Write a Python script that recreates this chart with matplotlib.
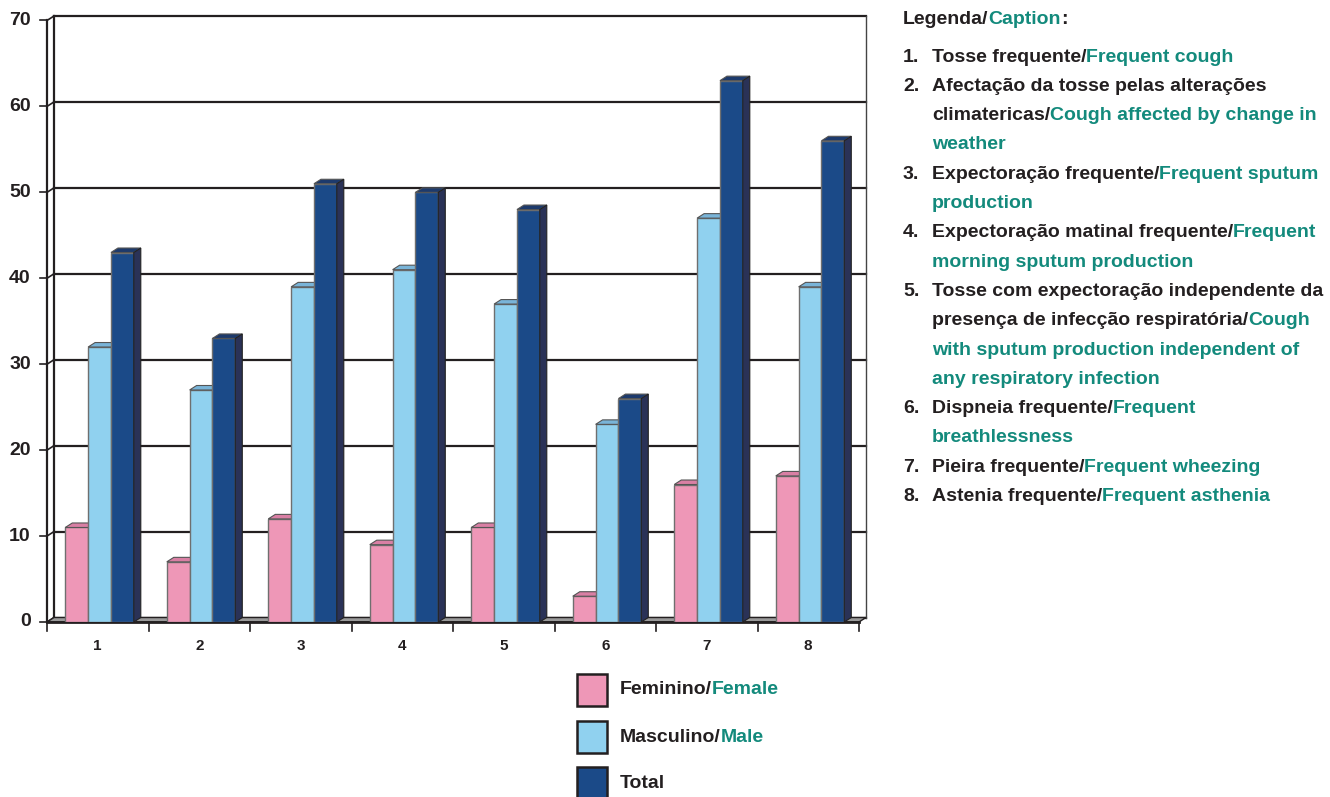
import matplotlib
matplotlib.use("Agg")
import matplotlib.pyplot as plt
from matplotlib import font_manager
from matplotlib.patches import Polygon, Rectangle

# data
categories = ["1", "2", "3", "4", "5", "6", "7", "8"]
female = [11, 7, 12, 9, 11, 3, 16, 17]
male = [32, 27, 39, 41, 37, 23, 47, 39]
total = [43, 33, 51, 50, 48, 26, 63, 56]
yticks = [0, 10, 20, 30, 40, 50, 60, 70]

series_names = [("Feminino/", "Female"), ("Masculino/", "Male"), ("Total", "")]
caption_title = [("Legenda/", "k"), ("Caption", "g"), (":", "k")]
caption_items = [
    ("1.", [[("Tosse frequente/", "k"), ("Frequent cough", "g")]]),
    ("2.", [[("Afectação da tosse pelas alterações", "k")],
            [("climatericas/", "k"), ("Cough affected by change in", "g")],
            [("weather", "g")]]),
    ("3.", [[("Expectoração frequente/", "k"), ("Frequent sputum", "g")],
            [("production", "g")]]),
    ("4.", [[("Expectoração matinal frequente/", "k"), ("Frequent", "g")],
            [("morning sputum production", "g")]]),
    ("5.", [[("Tosse com expectoração independente da", "k")],
            [("presença de infecção respiratória/", "k"), ("Cough", "g")],
            [("with sputum production independent of", "g")],
            [("any respiratory infection", "g")]]),
    ("6.", [[("Dispneia frequente/", "k"), ("Frequent", "g")],
            [("breathlessness", "g")]]),
    ("7.", [[("Pieira frequente/", "k"), ("Frequent wheezing", "g")]]),
    ("8.", [[("Astenia frequente/", "k"), ("Frequent asthenia", "g")]]),
]

installed = {f.name for f in font_manager.fontManager.ttflist}
FONT = "Liberation Sans Narrow" if "Liberation Sans Narrow" in installed else "Liberation Sans"
plt.rcParams["font.family"] = [FONT, "DejaVu Sans"]

TEAL = "#138a7c"
INK = "#231f20"
colors = {"k": INK, "g": TEAL}
face = ["#ee97b7", "#90d1ef", "#1b4a88"]
top = ["#d97fa4", "#79b4d8", "#1d3a6c"]
side = "#2a3257"

W, H = 1330, 797
fig = plt.figure(figsize=(W / 100, H / 100), dpi=100)

# plot area in pixels (front x0 .. back x1, zero .. top)
px_left, px_right, px_zero, px_top = 47, 866, 622, 16
ax = fig.add_axes([px_left / W, (H - px_zero) / H,
                   (px_right - px_left) / W, (px_zero - px_top) / H])
dx = 7 / 101.5     # depth offset in category units
dy = 4.5 / 8.6     # depth offset in value units
n = len(categories)
ax.set_xlim(0, n + dx)
ax.set_ylim(0, 70 + dy)
ax.axis("off")

# back wall grid
for v in yticks:
    ax.plot([dx, n + dx], [v + dy, v + dy], color=INK, lw=1.6, clip_on=False, zorder=1)
    ax.plot([0, dx], [v, v + dy], color=INK, lw=1.2, clip_on=False, zorder=1)
    ax.plot([-0.07, 0], [v, v], color=INK, lw=1.2, clip_on=False)
    ax.text(-0.16, v, str(v), ha="right", va="center", fontsize=14,
            fontweight="bold", color=INK)
ax.plot([0, 0], [0, 70], color=INK, lw=1.6, clip_on=False)
ax.plot([dx, dx], [dy, 70 + dy], color=INK, lw=1.6, clip_on=False)
ax.plot([n + dx, n + dx], [dy, 70 + dy], color="#444444", lw=1.0, clip_on=False)

# floor
ax.add_patch(Polygon([(0, 0), (n, 0), (n + dx, dy), (dx, dy)], closed=True,
                     facecolor="#9a9a9a", edgecolor=INK, lw=1.0, clip_on=False, zorder=2))
ax.plot([0, n], [0, 0], color=INK, lw=2.0, clip_on=False, zorder=2)

# x ticks and labels
for i in range(n + 1):
    ax.plot([i, i], [0, -1.0], color=INK, lw=1.2, clip_on=False)
for i, c in enumerate(categories):
    ax.text(i + 0.5, -2.8, c, ha="center", va="center", fontsize=11,
            fontweight="bold", color=INK)

# 3d-ish bars
offsets = [0.18, 0.405, 0.63]
bw = 0.225
for s, vals in enumerate([female, male, total]):
    for i, v in enumerate(vals):
        x0 = i + offsets[s]
        ax.bar(x0, v, width=bw, align="edge", color=face[s], edgecolor="#6f6f6f",
               lw=1.0, zorder=3 + s)
        ax.add_patch(Polygon([(x0, v), (x0 + bw, v), (x0 + bw + dx, v + dy), (x0 + dx, v + dy)],
                             closed=True, facecolor=top[s], edgecolor="#555555",
                             lw=0.8, zorder=3 + s))
        if s == 2:
            x1 = x0 + bw
            ax.add_patch(Polygon([(x1, 0), (x1 + dx, dy), (x1 + dx, v + dy), (x1, v)],
                                 closed=True, facecolor=side, edgecolor="#222222",
                                 lw=0.8, zorder=3 + s))

fig.canvas.draw()
renderer = fig.canvas.get_renderer()


def draw_runs(x, y, runs, size):
    """draw text pieces one after another, in figure pixels"""
    for txt, col in runs:
        t = fig.text(x / W, 1 - y / H, txt, ha="left", va="center", fontsize=size,
                     fontweight="bold", color=colors.get(col, col))
        bb = t.get_window_extent(renderer=renderer)
        x += bb.width


# series legend under the chart
legend_y = [690, 737, 783]
for s, (pt, en) in enumerate(series_names):
    fig.patches.append(Rectangle(((577) / W, 1 - (legend_y[s] + 16) / H), 30 / W, 32 / H,
                                 transform=fig.transFigure, facecolor=face[s],
                                 edgecolor=INK, lw=1.8))
    draw_runs(620, legend_y[s], [(pt, "k"), (en, "g")], 14)

# caption on the right
draw_runs(903, 20, caption_title, 14)
y = 57
step = 29.3
for num, lines in caption_items:
    fig.text(903 / W, 1 - y / H, num, ha="left", va="center", fontsize=14,
             fontweight="bold", color=INK)
    for line in lines:
        draw_runs(932, y, line, 14)
        y += step

fig.savefig("out.png", dpi=100, facecolor="white")
